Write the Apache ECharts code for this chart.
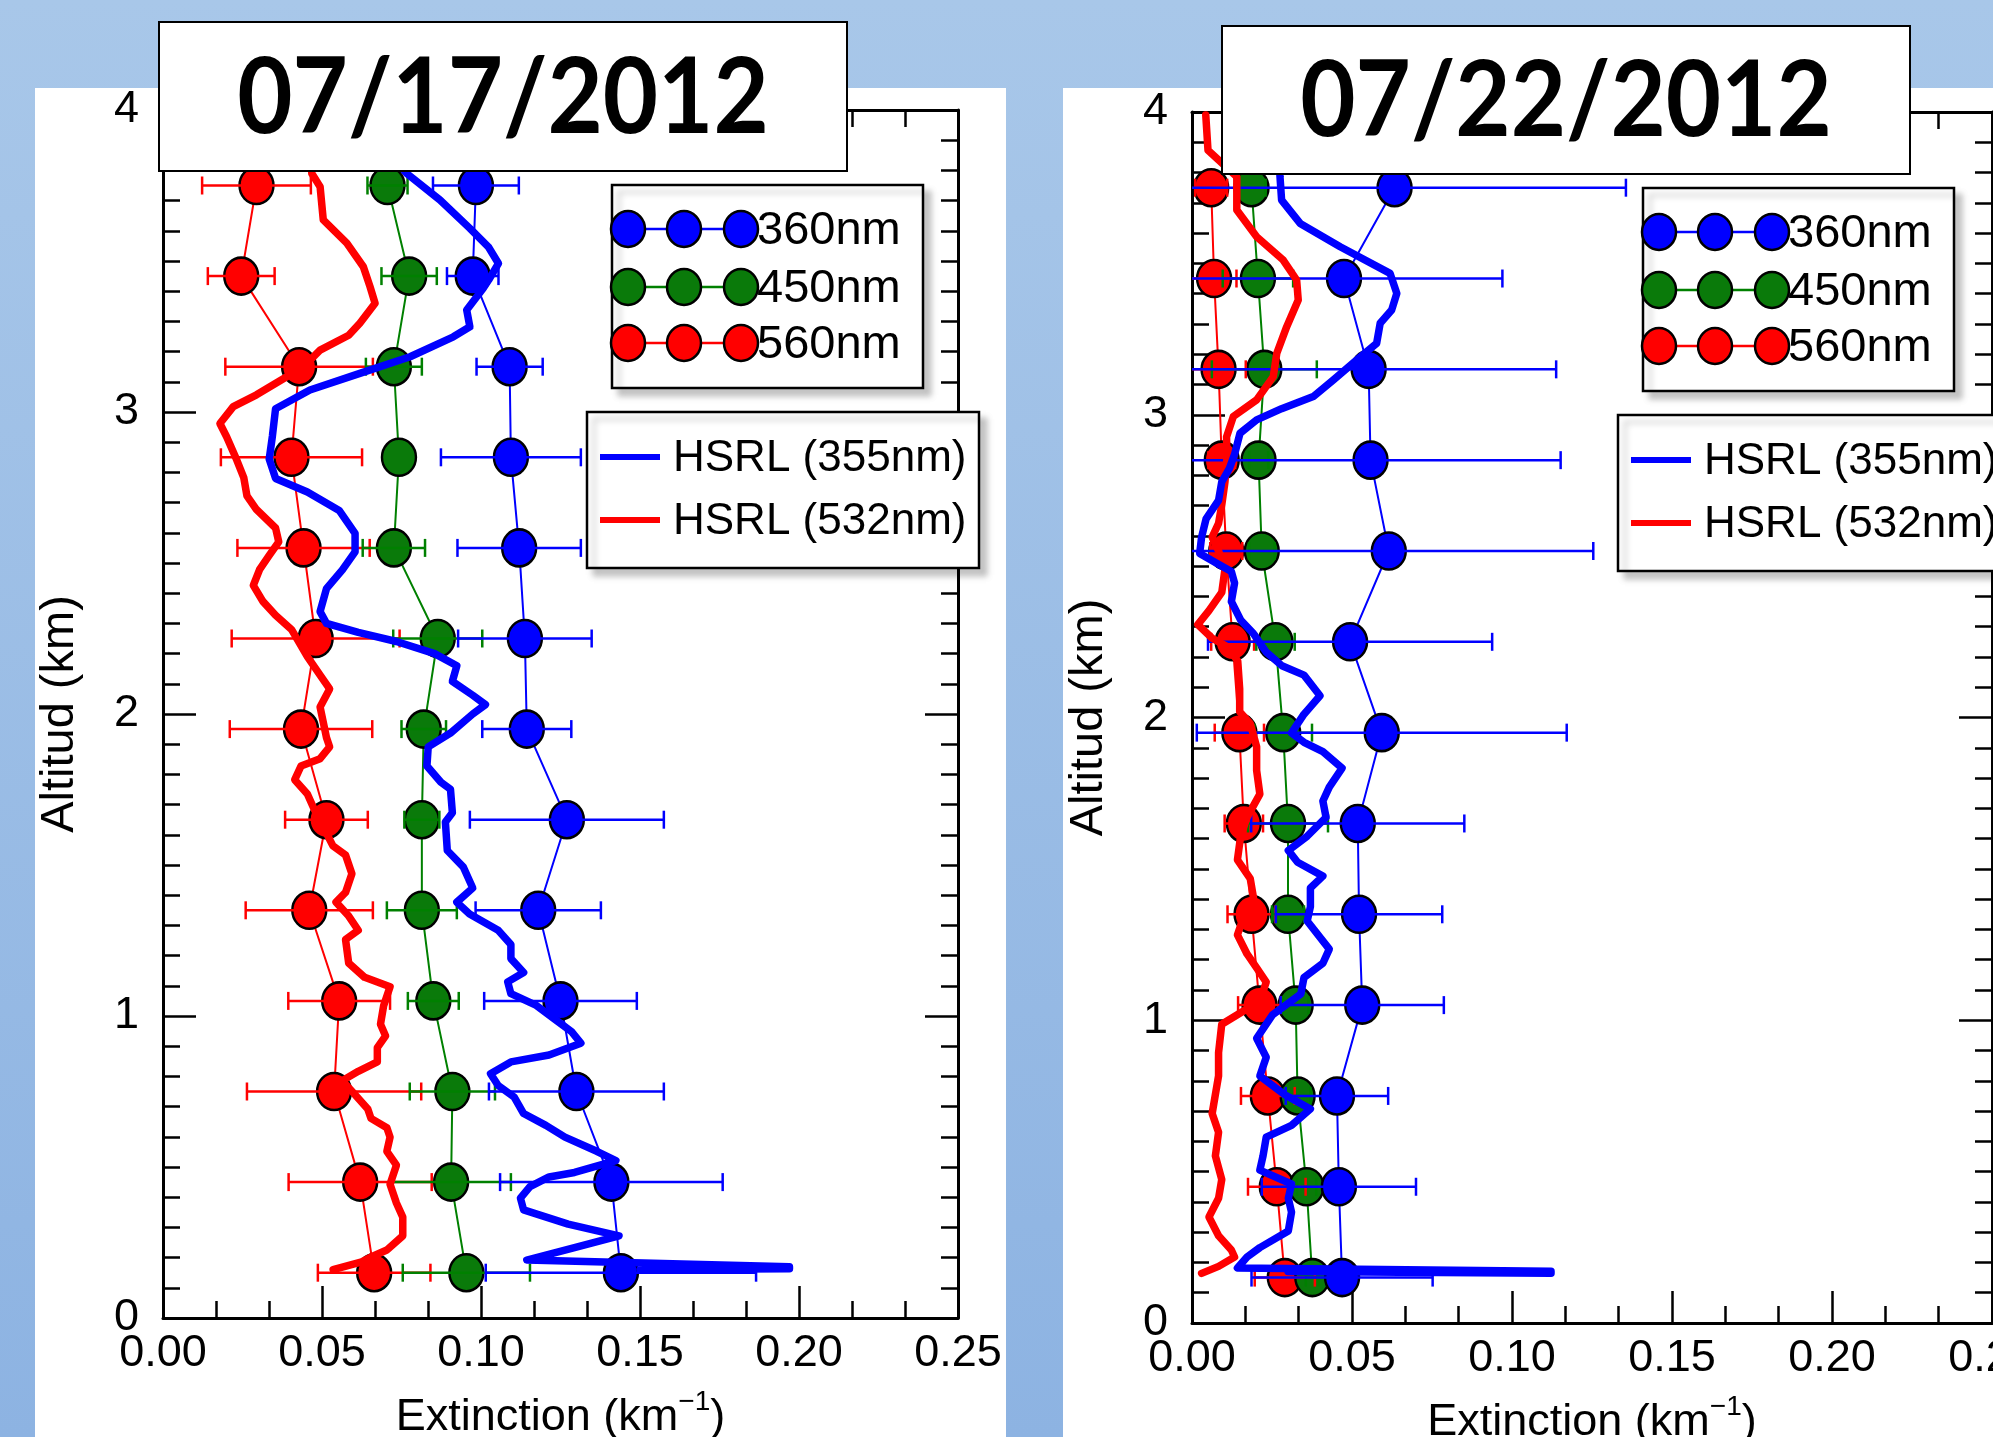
<!DOCTYPE html>
<html><head><meta charset="utf-8">
<script src="https://cdn.jsdelivr.net/npm/echarts@6/dist/echarts.min.js"></script>
<style>html,body{margin:0;padding:0;background:#fff;}#c{width:1993px;height:1437px;}</style>
</head><body><div id="c"></div>
<script>
// ---------- DATA ----------
const ALT = [0.15,0.45,0.75,1.05,1.35,1.65,1.95,2.25,2.55,2.85,3.15,3.45,3.75];
const X_TICKS_MIN = 0, X_TICKS_MAX = 0.25, X_TICK_STEP = 0.05;
const Y_TICKS_MIN = 0, Y_TICKS_MAX = 4, Y_TICK_STEP = 1;

// 07/17/2012 : airborne (markers) extinction and half error bar
const A_360 = [0.144,0.141,0.130,0.125,0.118,0.127,0.1144,0.1138,0.112,0.1094,0.109,0.0974,0.0984];
const A_360_ERR = [0.0425,0.035,0.0275,0.024,0.0197,0.0305,0.014,0.021,0.0194,0.022,0.0104,0.0081,0.0135];
const A_450 = [0.0954,0.0906,0.091,0.085,0.0814,0.0814,0.082,0.0864,0.0726,0.0742,0.0726,0.0774,0.0706];
const A_450_ERR = [0.02,0.0188,0.0134,0.008,0.011,0.0055,0.007,0.014,0.0098,0,0.0088,0.0087,0.0063];
const A_560 = [0.0664,0.062,0.0538,0.0554,0.046,0.0514,0.0434,0.048,0.0442,0.0404,0.0428,0.0246,0.0294];
const A_560_ERR = [0.0177,0.0225,0.0274,0.016,0.02,0.013,0.0224,0.0264,0.0208,0.0222,0.0232,0.0105,0.0171];

// 07/17/2012 : HSRL profiles
const A_H355_ALT = [3.92,3.790,3.702,3.608,3.547,3.492,3.437,3.410,3.338,3.282,3.249,3.183,3.128,3.073,3.011,2.920,2.844,2.78,2.735,2.674,2.598,2.537,2.477,2.415,2.339,2.30,2.27,2.24,2.20,2.16,2.108,2.062,2.031,2.0,1.937,1.891,1.828,1.774,1.751,1.673,1.642,1.548,1.494,1.424,1.377,1.338,1.284,1.237,1.19,1.144,1.113,1.074,1.035,0.988,0.949,0.91,0.871,0.848,0.809,0.77,0.732,0.677,0.638,0.599,0.552,0.521,0.482,0.467,0.435,0.397,0.358,0.311,0.272,0.233,0.192,0.170,0.163,0.161];
const A_H355_EXT = [0.066,0.0766,0.0871,0.0965,0.1023,0.1055,0.1024,0.1007,0.0955,0.0965,0.0913,0.0777,0.0619,0.0462,0.0354,0.0344,0.0334,0.0354,0.0454,0.0554,0.0604,0.0604,0.0564,0.0514,0.0494,0.0514,0.0614,0.0734,0.0854,0.0924,0.091,0.0974,0.1014,0.0974,0.0904,0.0834,0.083,0.0874,0.0904,0.091,0.0888,0.0894,0.0944,0.0974,0.0924,0.0964,0.1054,0.1094,0.1094,0.1134,0.1084,0.1094,0.1174,0.1234,0.1284,0.1314,0.1214,0.1094,0.103,0.1054,0.1104,0.1134,0.1204,0.1264,0.1364,0.1424,0.1294,0.1214,0.1154,0.1124,0.1134,0.1274,0.1434,0.1294,0.1144,0.197,0.197,0.15];
const A_H532_ALT = [3.92,3.790,3.746,3.636,3.559,3.481,3.415,3.36,3.294,3.254,3.205,3.163,3.117,3.057,3.018,2.962,2.918,2.841,2.783,2.722,2.677,2.616,2.57,2.525,2.479,2.426,2.373,2.327,2.28,2.19,2.129,2.083,2.023,1.922,1.891,1.852,1.828,1.782,1.735,1.688,1.626,1.564,1.533,1.471,1.409,1.377,1.331,1.284,1.253,1.175,1.128,1.097,1.035,0.973,0.934,0.895,0.848,0.817,0.786,0.739,0.692,0.661,0.63,0.599,0.552,0.506,0.443,0.381,0.334,0.272,0.225,0.202,0.186,0.160];
const A_H532_EXT = [0.046,0.0468,0.0494,0.0504,0.0578,0.063,0.0651,0.0667,0.0619,0.0584,0.0494,0.0454,0.0389,0.0294,0.0221,0.0179,0.02,0.0232,0.0254,0.0264,0.0294,0.0354,0.0364,0.0334,0.0304,0.0284,0.0314,0.0354,0.0404,0.0454,0.0494,0.0524,0.0494,0.0514,0.0524,0.0494,0.0434,0.0414,0.0454,0.0474,0.0504,0.0534,0.0574,0.0594,0.0574,0.0544,0.0584,0.0614,0.0574,0.0584,0.0634,0.0714,0.0694,0.0684,0.07,0.0674,0.0674,0.0614,0.0564,0.0604,0.0644,0.0654,0.0704,0.0714,0.0704,0.0734,0.0714,0.0734,0.0754,0.0754,0.0704,0.0654,0.0625,0.0535];

// 07/22/2012 : airborne (markers)
const B_360 = [0.0469,0.0459,0.0453,0.0532,0.0522,0.0518,0.0593,0.0494,0.0615,0.0558,0.0552,0.0475,0.0633];
const B_360_ERR = [0.0283,0.0241,0.016,0.0255,0.026,0.0333,0.0578,0.0444,0.0639,0.0594,0.0586,0.0495,0.0723];
const B_450 = [0.0376,0.0358,0.033,0.0324,0.030,0.030,0.0285,0.0261,0.0218,0.0208,0.0226,0.0206,0.0186];
const B_450_ERR = [0.002,0.003,0.004,0.004,0.005,0.0125,0.009,0.006,0.004,0.003,0.0164,0.011,0.0044];
const B_560 = [0.029,0.0265,0.0237,0.0211,0.0186,0.0162,0.0148,0.0127,0.0107,0.0093,0.0083,0.0069,0.006];
const B_560_ERR = [0.0094,0.009,0.0084,0.0067,0.0075,0.006,0.0077,0.0067,0.005,0.0042,0.0085,0.007,0.005];

// 07/22/2012 : HSRL profiles
const B_H355_ALT = [3.95,3.786,3.709,3.632,3.555,3.467,3.401,3.346,3.302,3.236,3.181,3.115,3.06,3.02,2.983,2.939,2.869,2.823,2.778,2.717,2.656,2.596,2.542,2.512,2.482,2.444,2.383,2.322,2.277,2.216,2.171,2.140,2.072,2.035,2.011,1.949,1.918,1.887,1.833,1.770,1.724,1.67,1.608,1.561,1.522,1.476,1.437,1.375,1.328,1.235,1.188,1.141,1.087,1.017,0.94,0.878,0.816,0.754,0.707,0.653,0.614,0.552,0.505,0.459,0.412,0.366,0.304,0.249,0.218,0.182,0.171,0.164,0.170];
const B_H355_EXT = [0.027,0.0275,0.028,0.0338,0.0463,0.0619,0.064,0.0624,0.0588,0.0577,0.0515,0.0442,0.0379,0.028,0.0202,0.015,0.0133,0.0117,0.0093,0.0083,0.0044,0.003,0.0024,0.0073,0.0123,0.0133,0.0123,0.0152,0.0192,0.0232,0.0281,0.035,0.040,0.037,0.035,0.0311,0.035,0.0409,0.0469,0.0429,0.0409,0.0419,0.036,0.0301,0.033,0.0409,0.037,0.037,0.036,0.0429,0.0409,0.035,0.034,0.0251,0.0202,0.0232,0.0212,0.029,0.037,0.0311,0.0232,0.0222,0.0212,0.0311,0.0301,0.0311,0.0301,0.0212,0.0172,0.0142,0.1122,0.1122,0.03];
const B_H532_ALT = [3.99,3.874,3.786,3.676,3.588,3.511,3.445,3.379,3.291,3.203,3.126,3.049,2.994,2.927,2.854,2.778,2.702,2.641,2.596,2.55,2.49,2.413,2.353,2.307,2.262,2.232,2.186,2.095,2.019,1.98,1.903,1.825,1.747,1.670,1.608,1.53,1.468,1.406,1.344,1.282,1.219,1.173,1.126,1.064,1.025,0.987,0.893,0.816,0.754,0.692,0.63,0.552,0.474,0.412,0.35,0.288,0.241,0.218,0.187,0.164];
const B_H532_EXT = [0.0043,0.005,0.014,0.014,0.0202,0.0285,0.0327,0.0332,0.0296,0.0265,0.0254,0.0202,0.0129,0.0108,0.0109,0.0103,0.0093,0.0083,0.0063,0.0083,0.0103,0.0093,0.0053,0.0018,0.0063,0.0113,0.0143,0.0149,0.0149,0.0182,0.0202,0.0202,0.0212,0.0172,0.0152,0.0142,0.0182,0.0192,0.0162,0.0142,0.0172,0.0202,0.0232,0.0212,0.0152,0.0093,0.0083,0.0083,0.0073,0.0063,0.0083,0.0073,0.0093,0.0083,0.0053,0.0083,0.0123,0.0133,0.0083,0.003];

const TITLES = ['07/17/2012','07/22/2012'];
const MARKER_LABELS = ['360nm','450nm','560nm'];
const LINE_LABELS = ['HSRL (355nm)','HSRL (532nm)'];
const X_NAME = '{a|Extinction (km}{s|\u22121}{a|)}';
const Y_NAME = 'Altitud (km)';

// ---------- STYLE ----------
const FONT = "'Liberation Sans', Arial, Helvetica, sans-serif";
const BLUE = '#0000ff', GREEN = '#0a7a0a', GREENLINE = '#008000', RED = '#ff0000';

const chart = echarts.init(document.getElementById('c'), null, {renderer:'canvas', width:1993, height:1437});

const GRIDS = [
  {left:163, top:110, width:795, height:1208},
  {left:1192, top:112, width:800, height:1211}
];

function xAxisCfg(gi, pos) {
  const main = pos === 'bottom';
  return {
    gridIndex: gi, type:'value', position: pos, min: X_TICKS_MIN, max: X_TICKS_MAX, interval: X_TICK_STEP,
    axisLine:{show:true, onZero:false, lineStyle:{color:'#000', width:3}},
    axisTick:{show:true, inside:true, length:32, lineStyle:{color:'#000', width:2.5}},
    minorTick:{show:true, splitNumber:3, length:17, lineStyle:{color:'#000', width:2.5}},
    splitLine:{show:false}, minorSplitLine:{show:false},
    axisLabel:{show: main, margin:13, fontSize:45, color:'#000', fontFamily:FONT, formatter: v => v.toFixed(2),
      hideOverlap:false, showMinLabel:true, showMaxLabel:true},
    name: main ? X_NAME : '', nameLocation:'middle', nameGap: 70,
    nameTextStyle:{ rich:{
      a:{fontSize:45, fontFamily:FONT, color:'#000', lineHeight:60},
      s:{fontSize:28, fontFamily:FONT, color:'#000', lineHeight:30, verticalAlign:'top'}
    }}
  };
}
function yAxisCfg(gi, pos) {
  const main = pos === 'left';
  return {
    gridIndex: gi, type:'value', position: pos, min: Y_TICKS_MIN, max: Y_TICKS_MAX, interval: Y_TICK_STEP,
    axisLine:{show:true, onZero:false, lineStyle:{color:'#000', width:3}},
    axisTick:{show:true, inside:true, length:33, lineStyle:{color:'#000', width:2.5}},
    minorTick:{show:true, splitNumber:10, length:17, lineStyle:{color:'#000', width:2.5}},
    splitLine:{show:false}, minorSplitLine:{show:false},
    axisLabel:{show: main, margin:24, fontSize:45, color:'#000', fontFamily:FONT, formatter: v => String(v)},
    name: main ? Y_NAME : '', nameLocation:'middle', nameGap: 79,
    nameTextStyle:{fontSize:47, fontFamily:FONT, color:'#000'}
  };
}

function markerSeries(ai, vals, fill, line) {
  return {
    type:'line', xAxisIndex: ai*2, yAxisIndex: ai*2, z:2, silent:true,
    data: ALT.map((a,i) => [vals[i], a]),
    symbol:'circle', symbolSize:[34,37], showSymbol:true,
    itemStyle:{color:fill, borderColor:'#000', borderWidth:2.5},
    lineStyle:{color:line, width:2}
  };
}
function hsrlSeries(ai, ext, alt, color) {
  return {
    type:'line', xAxisIndex: ai*2, yAxisIndex: ai*2, z:5, silent:true,
    data: ext.map((x,i) => [x, alt[i]]),
    symbol:'none', showSymbol:false,
    lineStyle:{color:color, width:7.5, join:'round', cap:'round'}
  };
}
function errSeries(ai, vals, errs, color) {
  return {
    type:'custom', xAxisIndex: ai*2, yAxisIndex: ai*2, z:3, silent:true,
    data: ALT.map((a,i) => [vals[i], errs[i], a]),
    encode:{x:0, y:2},
    renderItem: function(params, api) {
      const v = api.value(0), e = api.value(1), a = api.value(2);
      if (!(e > 0)) return null;
      const clampedLo = (v - e) < 0;
      const lo = Math.max(v - e, 0), hi = v + e;
      const p1 = api.coord([lo, a]), p2 = api.coord([hi, a]);
      const h = 9, st = {stroke:color, lineWidth:2.5};
      const ch = [{type:'line', shape:{x1:p1[0], y1:p1[1], x2:p2[0], y2:p2[1]}, style:st}];
      if (!clampedLo) ch.push({type:'line', shape:{x1:p1[0], y1:p1[1]-h, x2:p1[0], y2:p1[1]+h}, style:st});
      ch.push({type:'line', shape:{x1:p2[0], y1:p2[1]-h, x2:p2[0], y2:p2[1]+h}, style:st});
      return {type:'group', children: ch};
    }
  };
}

// ---------- GRAPHICS (background, titles, legends) ----------
const G = [];
G.push({type:'rect', z:-100, silent:true, shape:{x:0, y:0, width:1993, height:1437},
  style:{fill: new echarts.graphic.LinearGradient(0,0,0,1,[{offset:0,color:'#a8c7e9'},{offset:1,color:'#8db3e2'}])}});
G.push({type:'rect', z:-99, silent:true, shape:{x:35, y:88, width:971, height:1360}, style:{fill:'#fff'}});
G.push({type:'rect', z:-99, silent:true, shape:{x:1063, y:88, width:940, height:1360}, style:{fill:'#fff'}});

const TITLE_BOX = [{x:159, y:22, w:688, h:149, cx:503, cy:99}, {x:1222, y:26, w:688, h:148, cx:1566, cy:102}];
TITLE_BOX.forEach((b, i) => {
  G.push({type:'rect', z:100, silent:true, shape:{x:b.x, y:b.y, width:b.w, height:b.h}, style:{fill:'#fff', stroke:'#000', lineWidth:2}});
  G.push({type:'text', z:101, silent:true, x:b.cx, y:b.cy, scaleX:0.9, scaleY:1.0,
    style:{text:TITLES[i], x:0, y:0, align:'center', verticalAlign:'middle',
    font:"bold 106px Lato, 'Open Sans', sans-serif", fill:'#000'}});
});

const MCOL = [[BLUE, BLUE], [GREEN, GREENLINE], [RED, RED]];
const LEG_OFF = [{dx:0, dy:0}, {dx:1031, dy:3}];
LEG_OFF.forEach(o => {
  // marker legend
  G.push({type:'rect', z:50, silent:true, shape:{x:612+o.dx, y:185+o.dy, width:311, height:203},
    style:{fill:'#fff', stroke:'#000', lineWidth:2.5, shadowColor:'rgba(0,0,0,0.22)', shadowBlur:6, shadowOffsetX:7, shadowOffsetY:7}});
  const rows = [229, 287, 343];
  rows.forEach((ry, k) => {
    const y = ry + o.dy;
    G.push({type:'line', z:51, silent:true, shape:{x1:628+o.dx, y1:y, x2:741+o.dx, y2:y}, style:{stroke:MCOL[k][1], lineWidth:2.5}});
    [628, 684, 741].forEach(cx => {
      G.push({type:'ellipse', z:52, silent:true, shape:{cx:cx+o.dx, cy:y, rx:17, ry:18}, style:{fill:MCOL[k][0], stroke:'#000', lineWidth:2.5}});
    });
    G.push({type:'text', z:53, silent:true, style:{text:MARKER_LABELS[k], x:757+o.dx, y:y+2, align:'left', verticalAlign:'middle',
      font:"47px " + FONT, fill:'#000'}});
  });
  // HSRL legend
  G.push({type:'rect', z:50, silent:true, shape:{x:587+o.dx, y:412+o.dy, width:392, height:156},
    style:{fill:'#fff', stroke:'#000', lineWidth:2.5, shadowColor:'rgba(0,0,0,0.22)', shadowBlur:6, shadowOffsetX:7, shadowOffsetY:7}});
  [[457, BLUE], [520, RED]].forEach((r, k) => {
    const y = r[0] + o.dy;
    G.push({type:'line', z:51, silent:true, shape:{x1:600+o.dx, y1:y, x2:660+o.dx, y2:y}, style:{stroke:r[1], lineWidth:6}});
    G.push({type:'text', z:53, silent:true, style:{text:LINE_LABELS[k], x:673+o.dx, y:y+2, align:'left', verticalAlign:'middle',
      font:"44px " + FONT, fill:'#000'}});
  });
});

const option = {
  animation:false,
  grid: GRIDS.map(g => Object.assign({containLabel:false, outerBoundsMode:'none'}, g)),
  xAxis: [xAxisCfg(0,'bottom'), xAxisCfg(0,'top'), xAxisCfg(1,'bottom'), xAxisCfg(1,'top')],
  yAxis: [yAxisCfg(0,'left'), yAxisCfg(0,'right'), yAxisCfg(1,'left'), yAxisCfg(1,'right')],
  series: [
    markerSeries(0, A_560, RED, RED),
    markerSeries(0, A_450, GREEN, GREENLINE),
    markerSeries(0, A_360, BLUE, BLUE),
    errSeries(0, A_560, A_560_ERR, RED),
    errSeries(0, A_450, A_450_ERR, GREENLINE),
    errSeries(0, A_360, A_360_ERR, BLUE),
    hsrlSeries(0, A_H532_EXT, A_H532_ALT, RED),
    hsrlSeries(0, A_H355_EXT, A_H355_ALT, BLUE),
    markerSeries(1, B_560, RED, RED),
    markerSeries(1, B_450, GREEN, GREENLINE),
    markerSeries(1, B_360, BLUE, BLUE),
    errSeries(1, B_560, B_560_ERR, RED),
    errSeries(1, B_450, B_450_ERR, GREENLINE),
    errSeries(1, B_360, B_360_ERR, BLUE),
    hsrlSeries(1, B_H532_EXT, B_H532_ALT, RED),
    hsrlSeries(1, B_H355_EXT, B_H355_ALT, BLUE)
  ],
  graphic: {elements: G}
};
chart.setOption(option);
</script></body></html>
